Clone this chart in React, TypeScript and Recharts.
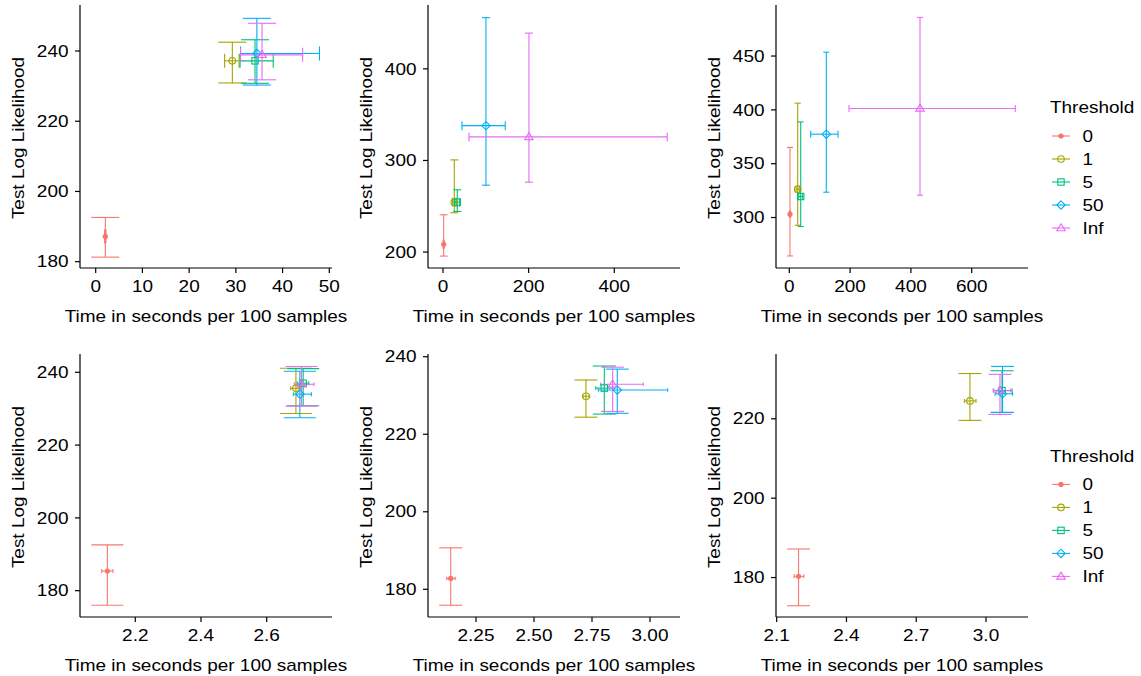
import React from 'react';
import { ScatterChart, Scatter, XAxis, YAxis, ErrorBar } from 'recharts';

const thresholds = ['0', '1', '5', '50', 'Inf'];
const seriesColors = ['#F8766D', '#A3A500', '#00BF7D', '#00B0F6', '#E76BF3'];
const markerKinds = ['dot', 'circle', 'square', 'diamond', 'triangle'];

// Panel 1 (top-left)
const p1Time = [2.06, 29.25, 34.1, 34.5, 35.6];
const p1TimeLo = [1.9, 27.6, 30.9, 31.0, 31.0];
const p1TimeHi = [2.2, 30.7, 38.0, 47.9, 44.3];
const p1LL = [187.2, 237.2, 237.2, 239.3, 238.9];
const p1LLLo = [181.3, 230.9, 230.8, 230.3, 231.8];
const p1LLHi = [192.6, 242.5, 243.2, 249.3, 247.9];
const p1XTicks = [0, 10, 20, 30, 40, 50];
const p1XLabels = ['0', '10', '20', '30', '40', '50'];
const p1YTicks = [180, 200, 220, 240];
const p1YLabels = ['180', '200', '220', '240'];

// Panel 2 (top-middle)
const p2Time = [1.6, 26.4, 33.4, 100.3, 200.7];
const p2TimeLo = [0.2, 22, 28, 44.3, 60.7];
const p2TimeHi = [3.0, 31, 39, 145.4, 523.5];
const p2LL = [208.4, 254.5, 254.5, 338, 325.7];
const p2LLLo = [195.6, 242.9, 244.3, 273, 276.3];
const p2LLHi = [240.7, 300.6, 268, 455.9, 439];
const p2XTicks = [0, 200, 400];
const p2XLabels = ['0', '200', '400'];
const p2YTicks = [200, 300, 400];
const p2YLabels = ['200', '300', '400'];

// Panel 3 (top-right)
const p3Time = [2.3, 27.6, 37.5, 121.7, 430];
const p3TimeLo = [0.5, 22, 31, 70.4, 196.4];
const p3TimeHi = [4.0, 33, 44, 160.2, 743.4];
const p3LL = [303.1, 326.3, 319.5, 377.4, 401.3];
const p3LLLo = [264.3, 292.8, 291.6, 323.5, 320.7];
const p3LLHi = [365.1, 406.2, 388.8, 453.6, 485.9];
const p3XTicks = [0, 200, 400, 600];
const p3XLabels = ['0', '200', '400', '600'];
const p3YTicks = [300, 350, 400, 450];
const p3YLabels = ['300', '350', '400', '450'];

// Panel 4 (bottom-left)
const p4Time = [2.115, 2.689, 2.711, 2.701, 2.706];
const p4TimeLo = [2.098, 2.673, 2.693, 2.681, 2.684];
const p4TimeHi = [2.132, 2.706, 2.728, 2.736, 2.744];
const p4LL = [185.4, 235.6, 237.0, 234.0, 236.7];
const p4LLLo = [176.0, 228.7, 230.8, 227.5, 230.7];
const p4LLHi = [192.6, 241.1, 241.0, 240.3, 241.6];
const p4XTicks = [2.2, 2.4, 2.6];
const p4XLabels = ['2.2', '2.4', '2.6'];
const p4YTicks = [180, 200, 220, 240];
const p4YLabels = ['180', '200', '220', '240'];

// Panel 5 (bottom-middle)
const p5Time = [2.141, 2.724, 2.803, 2.859, 2.839];
const p5TimeLo = [2.124, 2.71, 2.766, 2.777, 2.787];
const p5TimeHi = [2.16, 2.74, 2.84, 3.076, 2.971];
const p5LL = [182.8, 229.8, 231.9, 231.4, 232.9];
const p5LLLo = [175.9, 224.4, 225.2, 225.4, 225.9];
const p5LLHi = [190.7, 234.0, 237.6, 236.8, 237.3];
const p5XTicks = [2.25, 2.5, 2.75, 3.0];
const p5XLabels = ['2.25', '2.50', '2.75', '3.00'];
const p5YTicks = [180, 200, 220, 240];
const p5YLabels = ['180', '200', '220', '240'];

// Panel 6 (bottom-right)
const p6Time = [2.194, 2.931, 3.069, 3.071, 3.06];
const p6TimeLo = [2.175, 2.907, 3.033, 3.039, 3.031];
const p6TimeHi = [2.217, 2.957, 3.112, 3.114, 3.107];
const p6LL = [180.3, 224.5, 227.1, 226.3, 227.1];
const p6LLLo = [172.9, 219.6, 221.6, 221.6, 221.1];
const p6LLHi = [187.2, 231.4, 232.1, 233.2, 231.2];
const p6XTicks = [2.1, 2.4, 2.7, 3.0];
const p6XLabels = ['2.1', '2.4', '2.7', '3.0'];
const p6YTicks = [180, 200, 220];
const p6YLabels = ['180', '200', '220'];

const xTitle = 'Time in seconds per 100 samples';
const yTitle = 'Test Log Likelihood';
const legendTitle = 'Threshold';

const FONT = '"Liberation Sans", Arial, Helvetica, sans-serif';
const SX = 1.185;
const FS = 16;

function Marker({ cx, cy, kind, color }: any) {
  if (cx == null || cy == null) return null;
  switch (kind) {
    case 'dot':
      return <circle cx={cx} cy={cy} r={2.6} fill={color} stroke="none" />;
    case 'circle':
      return <circle cx={cx} cy={cy} r={3.3} fill="none" stroke={color} strokeWidth={1.1} />;
    case 'square':
      return <rect x={cx - 3.2} y={cy - 3.2} width={6.4} height={6.4} fill="none" stroke={color} strokeWidth={1.1} />;
    case 'diamond':
      return (
        <polygon
          points={`${cx},${cy - 4.2} ${cx + 4.2},${cy} ${cx},${cy + 4.2} ${cx - 4.2},${cy}`}
          fill="none"
          stroke={color}
          strokeWidth={1.1}
        />
      );
    default:
      return (
        <polygon
          points={`${cx},${cy - 4.3} ${cx + 4.2},${cy + 2.7} ${cx - 4.2},${cy + 2.7}`}
          fill="none"
          stroke={color}
          strokeWidth={1.1}
        />
      );
  }
}

type Panel = {
  left: number; top: number; right: number; bottom: number;
  xDomain: [number, number]; yDomain: [number, number];
  xTicks: number[]; xLabels: string[]; yTicks: number[]; yLabels: string[];
  time: number[]; timeLo: number[]; timeHi: number[];
  ll: number[]; llLo: number[]; llHi: number[];
  capW: number; capH: number;
};

const panels: Panel[] = [
  { left: 80, top: 5, right: 332, bottom: 268, xDomain: [-3.36, 50.58], yDomain: [178.2, 253.1],
    xTicks: p1XTicks, xLabels: p1XLabels, yTicks: p1YTicks, yLabels: p1YLabels,
    time: p1Time, timeLo: p1TimeLo, timeHi: p1TimeHi, ll: p1LL, llLo: p1LLLo, llHi: p1LLHi, capW: 28, capH: 14 },
  { left: 428, top: 5, right: 680, bottom: 268, xDomain: [-35.0, 553.4], yDomain: [182.6, 469.7],
    xTicks: p2XTicks, xLabels: p2XLabels, yTicks: p2YTicks, yLabels: p2YLabels,
    time: p2Time, timeLo: p2TimeLo, timeHi: p2TimeHi, ll: p2LL, llLo: p2LLLo, llHi: p2LLHi, capW: 8, capH: 9 },
  { left: 776, top: 5, right: 1028, bottom: 268, xDomain: [-43.75, 785.2], yDomain: [253.1, 497.4],
    xTicks: p3XTicks, xLabels: p3XLabels, yTicks: p3YTicks, yLabels: p3YLabels,
    time: p3Time, timeLo: p3TimeLo, timeHi: p3TimeHi, ll: p3LL, llLo: p3LLLo, llHi: p3LLHi, capW: 6, capH: 7 },
  { left: 80, top: 354, right: 332, bottom: 617, xDomain: [2.0317, 2.7988], yDomain: [172.77, 245.03],
    xTicks: p4XTicks, xLabels: p4XLabels, yTicks: p4YTicks, yLabels: p4YLabels,
    time: p4Time, timeLo: p4TimeLo, timeHi: p4TimeHi, ll: p4LL, llLo: p4LLLo, llHi: p4LLHi, capW: 32, capH: 4 },
  { left: 428, top: 354, right: 680, bottom: 617, xDomain: [2.0431, 3.1293], yDomain: [172.86, 240.7],
    xTicks: p5XTicks, xLabels: p5XLabels, yTicks: p5YTicks, yLabels: p5YLabels,
    time: p5Time, timeLo: p5TimeLo, timeHi: p5TimeHi, ll: p5LL, llLo: p5LLLo, llHi: p5LLHi, capW: 23, capH: 3.5 },
  { left: 776, top: 354, right: 1028, bottom: 617, xDomain: [2.097, 3.1806], yDomain: [170.06, 236.32],
    xTicks: p6XTicks, xLabels: p6XLabels, yTicks: p6YTicks, yLabels: p6YLabels,
    time: p6Time, timeLo: p6TimeLo, timeHi: p6TimeHi, ll: p6LL, llLo: p6LLLo, llHi: p6LLHi, capW: 23, capH: 4 },
];

const YW = 80;
const XH = 60;
const MT = 5;
const MR = 22;

function labelFor(ticks: number[], labels: string[], v: number) {
  const i = ticks.findIndex((t) => Math.abs(t - v) < 1e-9);
  return i >= 0 ? labels[i] : String(v);
}

function PanelChart({ p }: { p: Panel }) {
  const w = YW + (p.right - p.left) + MR;
  const h = MT + (p.bottom - p.top) + XH;
  const XTick = (props: any) => {
    const { x, y, payload } = props;
    return (
      <text
        transform={`translate(${x},${y + 16.6}) scale(${SX},1)`}
        textAnchor="middle"
        fontFamily={FONT}
        fontSize={FS}
        fill="#000"
      >
        {labelFor(p.xTicks, p.xLabels, payload.value)}
      </text>
    );
  };
  const YTick = (props: any) => {
    const { x, y, payload } = props;
    return (
      <text
        transform={`translate(${x},${y + 5.7}) scale(${SX},1)`}
        textAnchor="end"
        fontFamily={FONT}
        fontSize={FS}
        fill="#000"
      >
        {labelFor(p.yTicks, p.yLabels, payload.value)}
      </text>
    );
  };
  return (
    <div style={{ position: 'absolute', left: p.left - YW, top: p.top - MT, width: w, height: h }}>
      <ScatterChart width={w} height={h} margin={{ top: MT, right: MR, bottom: 0, left: 0 }}>
        <XAxis
          type="number"
          dataKey="x"
          domain={p.xDomain}
          ticks={p.xTicks}
          interval={0}
          allowDataOverflow
          height={XH}
          tickSize={5}
          tickMargin={2}
          axisLine={{ stroke: '#000', strokeWidth: 1.2 }}
          tickLine={{ stroke: '#000', strokeWidth: 1.2 }}
          tick={XTick}
        />
        <YAxis
          type="number"
          dataKey="y"
          domain={p.yDomain}
          ticks={p.yTicks}
          interval={0}
          allowDataOverflow
          width={YW}
          tickSize={5}
          tickMargin={6.5}
          axisLine={{ stroke: '#000', strokeWidth: 1.2 }}
          tickLine={{ stroke: '#000', strokeWidth: 1.2 }}
          tick={YTick}
        />
        {thresholds.map((name, i) => {
          const data = [
            {
              x: p.time[i],
              y: p.ll[i],
              ex: [p.time[i] - p.timeLo[i], p.timeHi[i] - p.time[i]],
              ey: [p.ll[i] - p.llLo[i], p.llHi[i] - p.ll[i]],
            },
          ];
          const color = seriesColors[i];
          return (
            <Scatter
              key={name}
              name={name}
              data={data}
              isAnimationActive={false}
              fill={color}
              shape={(sp: any) => <Marker cx={sp.cx} cy={sp.cy} kind={markerKinds[i]} color={color} />}
            >
              <ErrorBar dataKey="ey" direction="y" width={p.capW / 2} stroke={color} strokeWidth={1.1} isAnimationActive={false} />
              <ErrorBar dataKey="ex" direction="x" width={p.capH / 2} stroke={color} strokeWidth={1.1} isAnimationActive={false} />
            </Scatter>
          );
        })}
      </ScatterChart>
    </div>
  );
}

function Legend({ x, baseline }: { x: number; baseline: number }) {
  return (
    <g>
      <text transform={`translate(${x},${baseline}) scale(${SX},1)`} fontFamily={FONT} fontSize={FS} fill="#000">
        {legendTitle}
      </text>
      {thresholds.map((name, i) => {
        const cy = baseline + 22.7 + 23 * i;
        return (
          <g key={name}>
            <line x1={x + 2} x2={x + 20} y1={cy} y2={cy} stroke={seriesColors[i]} strokeWidth={1.1} />
            <Marker cx={x + 11} cy={cy} kind={markerKinds[i]} color={seriesColors[i]} />
            <text
              transform={`translate(${x + 32.5},${cy + 5.7}) scale(${SX},1)`}
              fontFamily={FONT}
              fontSize={FS}
              fill="#000"
            >
              {name}
            </text>
          </g>
        );
      })}
    </g>
  );
}

export default function App() {
  return (
    <div style={{ position: 'absolute', left: 0, top: 0, width: 1141, height: 676, background: '#fff', overflow: 'hidden' }}>
      {panels.map((p, i) => (
        <PanelChart key={i} p={p} />
      ))}
      <svg width={1141} height={676} style={{ position: 'absolute', left: 0, top: 0, pointerEvents: 'none' }}>
        {panels.map((p, i) => (
          <g key={i}>
            <text
              transform={`translate(${(p.left + p.right) / 2},${p.bottom + 53.5}) scale(${SX},1)`}
              textAnchor="middle"
              fontFamily={FONT}
              fontSize={FS}
              fill="#000"
            >
              {xTitle}
            </text>
            <text
              transform={`translate(${p.left - 56.5},${(p.top + p.bottom) / 2 + 1.5}) rotate(-90) scale(${SX},1)`}
              textAnchor="middle"
              fontFamily={FONT}
              fontSize={FS}
              fill="#000"
            >
              {yTitle}
            </text>
          </g>
        ))}
        <Legend x={1050} baseline={113.3} />
        <Legend x={1050} baseline={461.7} />
      </svg>
    </div>
  );
}
